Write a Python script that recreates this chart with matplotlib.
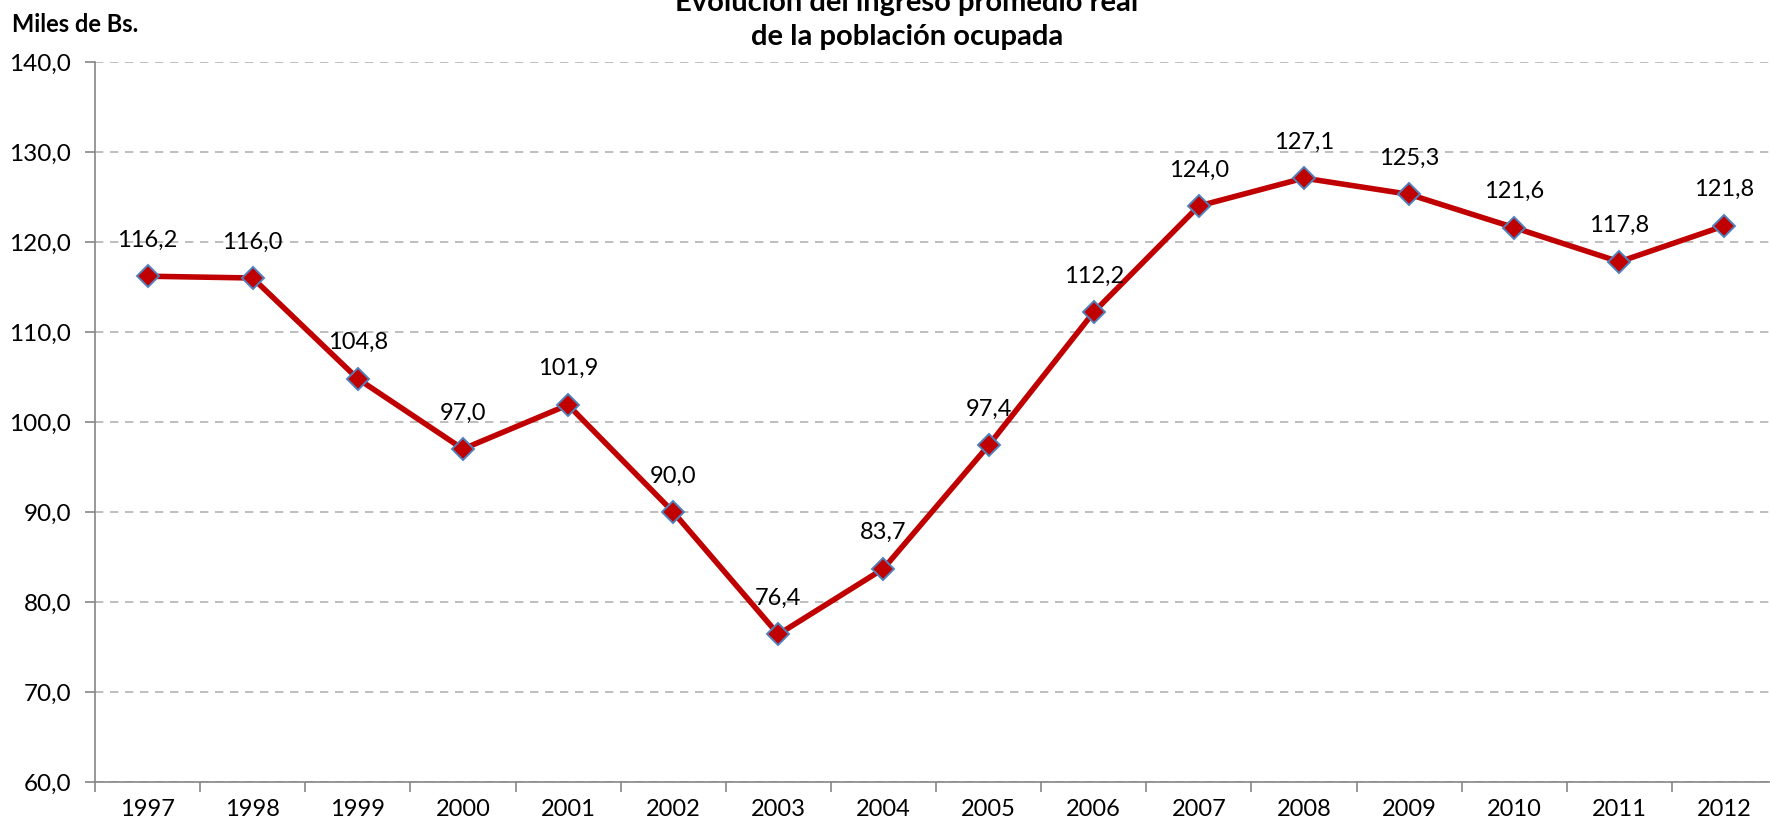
"""
Evolución del ingreso promedio real de la población ocupada, 1997-2012.
"""

import numpy as np
import matplotlib
matplotlib.use('Agg')
import matplotlib.pyplot as plt
from matplotlib.ticker import MultipleLocator, FixedLocator

YEARS = ['1997', '1998', '1999', '2000', '2001', '2002', '2003', '2004',
         '2005', '2006', '2007', '2008', '2009', '2010', '2011', '2012']
INGRESO = [116.2, 116.0, 104.8, 97.0, 101.9, 90.0, 76.4, 83.7,
           97.4, 112.2, 124.0, 127.1, 125.3, 121.6, 117.8, 121.8]

RED = '#C00000'
BLUE = '#4F81BD'


def fmt(v):
    return f'{v:.1f}'.replace('.', ',')


def main():
    plt.rcParams['font.family'] = ['Lato', 'DejaVu Sans']
    fig = plt.figure(figsize=(17.7, 8.25), dpi=100)
    ax = fig.add_axes([95 / 1770, 1 - 782 / 825, 1682 / 1770, 720 / 825])

    x = np.arange(len(YEARS))
    ax.plot(x, INGRESO, color=RED, lw=4.0, marker='D', ms=11,
            mfc=RED, mec=BLUE, mew=1.4, zorder=3, clip_on=False)
    for xi, v in zip(x, INGRESO):
        ax.annotate(fmt(v), (xi, v), xytext=(0, 26), textcoords='offset points',
                    ha='center', va='center', fontsize=17)

    # Axes
    ax.set_xlim(-0.5, len(YEARS) - 0.5)
    ax.set_ylim(60, 140)
    ax.yaxis.set_major_locator(MultipleLocator(10))
    ax.set_yticklabels([fmt(v) for v in ax.get_yticks()])
    ax.set_xticks(x)
    ax.set_xticklabels(YEARS)
    ax.xaxis.set_minor_locator(FixedLocator(np.arange(-0.5, len(YEARS), 1)))
    ax.tick_params(axis='x', which='major', length=0, pad=12, labelsize=17)
    ax.tick_params(axis='x', which='minor', length=7, color='#868686', width=1.2)
    ax.tick_params(axis='y', length=7, color='#868686', width=1.2, pad=10,
                   labelsize=17.5)
    ax.grid(axis='y', color='#B3B3B3', ls=(0, (5, 4)), lw=1.2)
    ax.set_axisbelow(True)
    for side in ('top', 'right'):
        ax.spines[side].set_visible(False)
    for side in ('left', 'bottom'):
        ax.spines[side].set_color('#868686')
        ax.spines[side].set_linewidth(1.2)

    # Titles
    fig.text(907 / 1770, 1 - 3 / 825, 'Evolución del ingreso promedio real',
             ha='center', va='center', fontsize=21, fontweight='bold')
    fig.text(907 / 1770, 1 - 37 / 825, 'de la población ocupada',
             ha='center', va='center', fontsize=21, fontweight='bold')
    fig.text(12 / 1770, 1 - 24 / 825, 'Miles de Bs.',
             ha='left', va='center', fontsize=17, fontweight='bold')

    plt.savefig('out.png', dpi=100)
    plt.close()


if __name__ == '__main__':
    main()
